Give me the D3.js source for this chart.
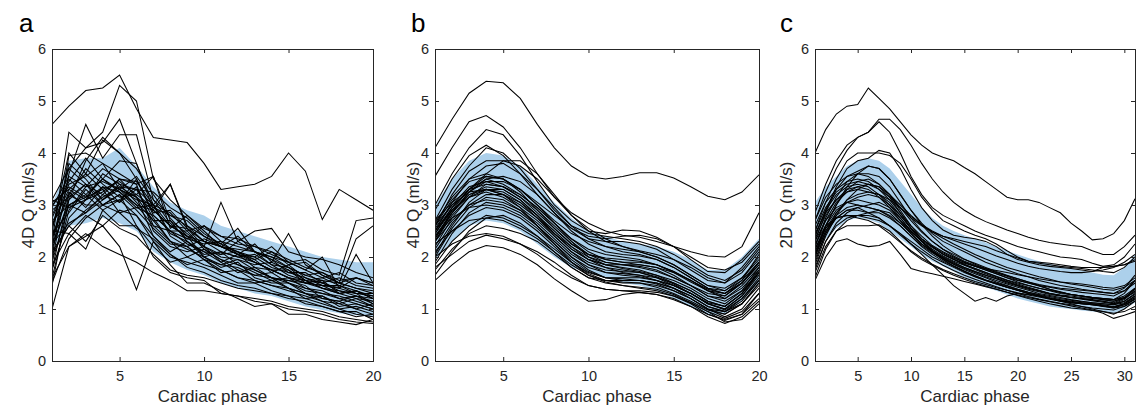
<!DOCTYPE html>
<html>
<head>
<meta charset="utf-8">
<title></title>
<script src="https://d3js.org/d3.v7.min.js"></script>
<style>
body { margin: 0; background: #fff; }
svg text { font-family: "Liberation Sans", Arial, Helvetica, sans-serif; fill: #262626; }
</style>
</head>
<body>
<svg id="chart" width="1137" height="406"></svg>
<script>

// tick labels
var yTicks = [0, 1, 2, 3, 4, 5, 6]
var xTicksAB = [5, 10, 15, 20]
var xTicksC = [5, 10, 15, 20, 25, 30]

// panel a : 4D flow, 20 phases
var bandHiA = [3.0, 3.85, 3.9, 3.9, 4.1, 3.75, 3.35, 3.05, 2.9, 2.8, 2.6, 2.5, 2.4, 2.3, 2.2, 2.1, 2.0, 1.95, 1.9, 1.9]
var bandLoA = [2.15, 2.6, 2.65, 2.75, 2.65, 2.5, 2.1, 1.9, 1.75, 1.65, 1.5, 1.4, 1.3, 1.25, 1.15, 1.05, 0.98, 0.92, 0.88, 0.85]
var linesA = [
  [4.55, 4.9, 5.2, 5.25, 5.5, 4.85, 4.3, 4.25, 4.2, 3.8, 3.3, 3.35, 3.4, 3.55, 4.0, 3.65, 2.72, 3.3, 3.1, 2.9],
  [3.1, 3.7, 4.1, 4.4, 5.3, 5.0, 3.5, 3.1, 2.8, 2.55, 2.4, 2.35, 2.2, 2.1, 1.95, 1.8, 1.7, 1.55, 1.6, 1.5],
  [2.3, 4.4, 4.1, 4.2, 4.65, 3.8, 3.0, 2.6, 2.4, 2.2, 2.05, 2.1, 1.9, 1.75, 1.6, 1.5, 1.45, 1.3, 1.35, 1.2],
  [1.9, 3.6, 4.55, 3.9, 4.35, 4.35, 3.1, 2.8, 2.6, 2.3, 2.2, 2.4, 2.1, 1.85, 1.8, 1.65, 1.55, 1.5, 1.4, 1.3],
  [2.5, 4.0, 3.6, 4.25, 4.0, 3.7, 3.2, 2.75, 2.4, 2.3, 2.2, 2.05, 2.0, 1.8, 1.7, 1.6, 1.45, 1.45, 1.3, 1.25],
  [1.45, 3.1, 3.85, 4.3, 4.0, 3.5, 2.8, 2.5, 2.5, 2.15, 1.95, 1.85, 1.75, 1.6, 1.55, 1.5, 1.4, 1.3, 1.2, 1.15],
  [2.0, 3.95, 4.0, 3.8, 3.6, 3.4, 3.55, 2.7, 2.3, 2.05, 2.1, 2.0, 1.9, 1.75, 1.6, 1.55, 1.4, 1.35, 1.3, 1.1],
  [2.8, 3.5, 3.2, 3.5, 3.85, 3.8, 2.9, 3.4, 2.6, 2.4, 2.2, 2.15, 2.1, 2.0, 1.8, 1.55, 1.5, 1.35, 1.25, 1.2],
  [3.05, 3.3, 3.6, 3.3, 3.45, 3.2, 3.55, 2.55, 2.8, 2.5, 2.2, 2.1, 1.95, 2.1, 1.85, 1.9, 1.65, 1.5, 1.6, 1.5],
  [2.2, 3.8, 3.5, 3.1, 3.35, 3.15, 2.7, 2.3, 2.15, 2.0, 1.85, 1.8, 1.65, 1.6, 1.5, 1.35, 1.3, 1.2, 1.1, 1.0],
  [2.6, 3.3, 3.1, 3.25, 3.5, 3.4, 2.5, 2.2, 2.1, 2.2, 1.9, 1.7, 1.8, 1.6, 1.4, 1.3, 1.25, 1.1, 1.2, 1.05],
  [1.6, 2.9, 3.35, 3.45, 3.3, 3.15, 2.4, 2.1, 2.3, 2.0, 1.8, 1.9, 1.6, 1.5, 1.5, 1.3, 1.2, 1.15, 1.0, 0.9],
  [2.75, 3.45, 3.9, 3.5, 3.3, 3.0, 2.6, 2.5, 2.25, 2.1, 2.05, 2.3, 2.1, 1.95, 1.7, 1.7, 1.5, 1.6, 1.45, 1.4],
  [2.35, 3.2, 3.0, 3.0, 3.2, 2.6, 2.2, 1.9, 2.0, 1.85, 1.75, 1.6, 1.55, 1.45, 1.4, 1.3, 1.15, 1.0, 0.9, 0.85],
  [1.75, 2.75, 3.1, 3.35, 3.25, 3.0, 2.9, 2.6, 2.4, 2.0, 2.1, 1.85, 1.7, 1.55, 1.6, 1.4, 1.3, 1.25, 1.15, 1.05],
  [2.9, 3.15, 3.4, 3.1, 3.3, 3.1, 3.0, 2.4, 2.2, 2.35, 2.2, 2.05, 1.95, 1.7, 1.85, 1.6, 1.5, 1.4, 2.05, 1.5],
  [2.25, 2.65, 2.85, 3.1, 3.4, 3.05, 2.7, 2.7, 2.45, 2.2, 2.0, 1.95, 1.85, 1.9, 1.75, 1.5, 1.55, 1.3, 1.35, 1.25],
  [1.9, 3.0, 3.2, 2.9, 3.1, 2.8, 2.3, 2.0, 1.9, 1.8, 1.65, 1.5, 1.5, 1.35, 1.25, 1.2, 1.1, 1.0, 1.05, 0.95],
  [2.45, 2.85, 3.3, 3.0, 3.1, 3.35, 2.6, 2.3, 2.0, 2.15, 1.95, 1.75, 1.65, 1.7, 1.5, 1.4, 1.35, 1.2, 1.25, 1.15],
  [3.0, 3.35, 3.15, 3.5, 3.25, 2.95, 3.0, 2.45, 2.3, 2.1, 1.9, 2.05, 1.8, 1.75, 1.6, 1.5, 1.45, 1.4, 1.3, 1.3],
  [2.1, 2.6, 2.3, 2.8, 2.55, 2.4, 2.05, 1.75, 1.65, 1.6, 1.5, 1.4, 1.35, 1.3, 1.25, 1.1, 1.05, 0.95, 0.95, 0.8],
  [1.6, 2.2, 2.45, 2.2, 2.05, 1.9, 1.7, 1.55, 1.35, 1.35, 1.3, 1.25, 1.15, 1.1, 1.0, 0.95, 0.9, 0.8, 0.75, 0.72],
  [1.0, 2.2, 2.4, 2.6, 2.2, 1.37, 2.3, 1.85, 1.5, 1.5, 1.35, 1.2, 1.05, 1.1, 0.9, 0.9, 0.8, 0.75, 0.7, 0.8],
  [2.5, 2.45, 2.15, 2.9, 2.6, 2.6, 2.0, 1.7, 1.6, 1.55, 1.3, 1.25, 1.2, 1.15, 1.05, 1.0, 0.95, 0.85, 0.8, 0.75],
  [2.55, 3.7, 3.4, 3.2, 3.5, 3.45, 3.0, 3.4, 2.55, 2.2, 3.05, 2.3, 2.5, 2.55, 2.1, 2.0, 1.95, 1.85, 1.7, 1.6],
  [2.7, 3.0, 2.85, 3.2, 3.05, 3.5, 2.85, 2.9, 2.55, 2.3, 2.2, 2.05, 2.25, 1.9, 2.45, 1.85, 1.65, 1.5, 1.4, 1.35],
  [1.75, 3.2, 3.7, 3.4, 3.15, 3.2, 2.95, 2.8, 2.7, 2.4, 2.25, 2.55, 2.1, 2.0, 1.9, 1.75, 2.0, 1.4, 1.6, 1.45],
  [2.05, 2.6, 2.9, 3.15, 3.35, 3.3, 3.25, 2.95, 2.75, 2.45, 2.25, 2.1, 2.0, 2.2, 1.9, 1.95, 1.75, 1.65, 2.7, 2.75],
  [2.25, 3.0, 3.15, 3.3, 2.85, 2.95, 2.8, 2.5, 2.35, 2.6, 2.3, 2.2, 2.1, 1.95, 1.8, 1.65, 1.7, 1.5, 2.35, 2.6],
  [2.95, 3.55, 3.35, 3.7, 3.5, 3.15, 2.9, 2.6, 2.55, 2.3, 2.1, 2.0, 2.05, 1.85, 1.65, 1.55, 1.6, 1.45, 1.35, 1.2],
  [1.85, 2.45, 2.8, 2.6, 2.9, 2.8, 2.4, 2.05, 1.85, 1.95, 1.75, 1.6, 1.5, 1.55, 1.4, 1.2, 1.25, 1.05, 1.1, 1.0],
  [2.4, 3.25, 2.95, 3.35, 3.05, 3.3, 2.75, 2.3, 2.2, 1.95, 1.85, 1.95, 1.75, 1.6, 1.55, 1.45, 1.2, 1.15, 1.25, 1.1],
  [3.1, 2.95, 3.1, 3.6, 3.4, 3.3, 3.0, 2.85, 2.5, 2.6, 2.4, 2.25, 2.2, 2.05, 1.9, 1.75, 1.6, 1.7, 1.5, 1.45],
  [1.5, 2.35, 2.75, 3.0, 2.85, 2.55, 2.35, 2.05, 1.8, 1.7, 1.55, 1.45, 1.4, 1.3, 1.2, 1.15, 1.05, 0.95, 0.85, 0.9],
  [2.15, 3.1, 3.4, 3.0, 3.2, 2.9, 2.55, 2.25, 2.2, 1.95, 1.7, 1.75, 1.55, 1.45, 1.35, 1.25, 1.15, 1.1, 1.0, 1.1],
  [2.6, 3.4, 3.55, 3.8, 3.3, 3.55, 3.1, 2.65, 2.35, 2.25, 2.3, 2.05, 1.9, 1.75, 1.75, 1.55, 1.4, 1.3, 1.35, 1.2]
]

// panel b : 4D flow, smoothed, 20 phases
var bandHiB = [3.0, 3.5, 3.85, 4.0, 3.95, 3.75, 3.4, 3.05, 2.75, 2.5, 2.4, 2.3, 2.25, 2.2, 2.1, 1.95, 1.75, 1.75, 2.0, 2.35]
var bandLoB = [1.95, 2.3, 2.6, 2.7, 2.65, 2.5, 2.25, 2.0, 1.8, 1.7, 1.6, 1.5, 1.45, 1.35, 1.2, 1.05, 0.88, 0.9, 1.15, 1.5]
var linesB = [
  [4.1, 4.65, 5.15, 5.38, 5.35, 5.05, 4.55, 4.1, 3.75, 3.55, 3.5, 3.55, 3.62, 3.62, 3.52, 3.35, 3.17, 3.1, 3.25, 3.58],
  [3.55, 4.1, 4.6, 4.72, 4.5, 4.1, 3.6, 3.15, 2.85, 2.65, 2.5, 2.42, 2.38, 2.3, 2.2, 2.1, 2.02, 2.0, 2.2, 2.85],
  [3.0, 3.6, 4.1, 4.45, 4.35, 3.95, 3.45, 3.0, 2.7, 2.5, 2.45, 2.52, 2.5, 2.38, 2.2, 1.95, 1.72, 1.7, 1.95, 2.3],
  [2.9, 3.5, 3.95, 4.15, 3.95, 3.6, 3.2, 2.85, 2.55, 2.35, 2.3, 2.3, 2.25, 2.15, 1.95, 1.75, 1.55, 1.5, 1.8, 2.2],
  [2.7, 3.3, 3.75, 4.1, 4.0, 3.7, 3.3, 2.9, 2.6, 2.45, 2.4, 2.35, 2.3, 2.2, 2.05, 1.85, 1.65, 1.55, 1.75, 2.15],
  [2.6, 3.2, 3.65, 3.85, 3.85, 3.75, 3.5, 3.15, 2.8, 2.55, 2.35, 2.2, 2.1, 2.0, 1.85, 1.65, 1.45, 1.4, 1.6, 2.0],
  [2.5, 3.05, 3.5, 3.75, 3.8, 3.6, 3.3, 2.95, 2.6, 2.35, 2.2, 2.1, 2.05, 1.95, 1.8, 1.6, 1.4, 1.35, 1.6, 1.95],
  [2.45, 2.95, 3.3, 3.55, 3.5, 3.3, 3.0, 2.7, 2.45, 2.3, 2.2, 2.15, 2.1, 2.0, 1.85, 1.65, 1.45, 1.35, 1.55, 1.9],
  [2.35, 2.9, 3.3, 3.5, 3.4, 3.2, 2.95, 2.65, 2.35, 2.1, 1.95, 1.9, 1.85, 1.8, 1.7, 1.55, 1.35, 1.25, 1.5, 1.85],
  [2.55, 3.0, 3.35, 3.45, 3.35, 3.15, 2.9, 2.6, 2.3, 2.05, 1.9, 1.85, 1.82, 1.75, 1.6, 1.45, 1.25, 1.2, 1.45, 1.8],
  [2.2, 2.75, 3.15, 3.4, 3.35, 3.15, 2.85, 2.55, 2.25, 2.05, 1.95, 1.9, 1.9, 1.85, 1.72, 1.55, 1.35, 1.2, 1.4, 1.75],
  [2.4, 2.85, 3.2, 3.35, 3.3, 3.1, 2.8, 2.45, 2.15, 1.95, 1.85, 1.8, 1.75, 1.65, 1.5, 1.35, 1.15, 1.05, 1.3, 1.7],
  [2.3, 2.8, 3.15, 3.3, 3.25, 3.05, 2.75, 2.4, 2.1, 1.9, 1.8, 1.75, 1.7, 1.6, 1.45, 1.3, 1.1, 1.0, 1.25, 1.65],
  [2.6, 3.0, 3.25, 3.3, 3.2, 3.0, 2.75, 2.45, 2.2, 2.0, 1.9, 1.85, 1.8, 1.72, 1.6, 1.45, 1.3, 1.25, 1.5, 1.85],
  [2.15, 2.65, 3.0, 3.2, 3.2, 3.05, 2.8, 2.5, 2.2, 1.95, 1.8, 1.7, 1.65, 1.55, 1.4, 1.2, 1.0, 0.95, 1.2, 1.6],
  [2.5, 2.9, 3.15, 3.25, 3.15, 2.95, 2.7, 2.4, 2.1, 1.85, 1.7, 1.65, 1.62, 1.55, 1.45, 1.3, 1.1, 1.0, 1.25, 1.7],
  [2.0, 2.55, 2.95, 3.15, 3.1, 2.9, 2.6, 2.3, 2.0, 1.8, 1.7, 1.68, 1.65, 1.6, 1.5, 1.35, 1.15, 1.05, 1.3, 1.75],
  [2.3, 2.7, 3.0, 3.1, 3.05, 2.9, 2.65, 2.35, 2.05, 1.85, 1.75, 1.72, 1.7, 1.62, 1.48, 1.3, 1.1, 0.98, 1.2, 1.55],
  [1.9, 2.45, 2.85, 3.05, 3.0, 2.85, 2.6, 2.3, 2.0, 1.75, 1.6, 1.55, 1.55, 1.5, 1.4, 1.25, 1.05, 0.95, 1.15, 1.55],
  [2.4, 2.75, 2.95, 3.0, 2.95, 2.8, 2.55, 2.25, 1.95, 1.72, 1.6, 1.6, 1.6, 1.55, 1.45, 1.3, 1.12, 1.05, 1.3, 1.7],
  [2.1, 2.5, 2.8, 2.95, 2.9, 2.75, 2.5, 2.2, 1.9, 1.68, 1.55, 1.5, 1.5, 1.45, 1.35, 1.2, 1.0, 0.9, 1.1, 1.5],
  [1.85, 2.3, 2.6, 2.8, 2.75, 2.6, 2.4, 2.15, 1.9, 1.7, 1.6, 1.58, 1.55, 1.48, 1.35, 1.2, 1.0, 0.85, 1.0, 1.4],
  [2.25, 2.5, 2.7, 2.75, 2.7, 2.55, 2.35, 2.1, 1.85, 1.65, 1.52, 1.45, 1.42, 1.38, 1.28, 1.12, 0.95, 0.82, 0.95, 1.3],
  [1.75, 2.15, 2.45, 2.6, 2.55, 2.45, 2.3, 2.05, 1.8, 1.6, 1.5, 1.45, 1.4, 1.35, 1.25, 1.1, 0.9, 0.78, 0.9, 1.2],
  [2.0, 2.25, 2.4, 2.45, 2.4, 2.25, 2.05, 1.8, 1.6, 1.45, 1.38, 1.35, 1.32, 1.28, 1.2, 1.05, 0.85, 0.72, 0.85, 1.15],
  [1.55, 1.85, 2.1, 2.22, 2.18, 2.05, 1.85, 1.58, 1.35, 1.15, 1.18, 1.28, 1.32, 1.28, 1.18, 1.05, 0.9, 0.8, 0.9, 1.3],
  [1.8, 2.05, 2.3, 2.42, 2.35, 2.25, 2.1, 1.9, 1.65, 1.45, 1.38, 1.35, 1.35, 1.32, 1.25, 1.12, 0.95, 0.75, 0.8, 1.1],
  [2.6, 3.1, 3.45, 3.55, 3.5, 3.3, 3.05, 2.8, 2.55, 2.4, 2.35, 2.4, 2.42, 2.35, 2.2, 2.0, 1.8, 1.75, 1.9, 2.25],
  [2.7, 3.05, 3.3, 3.4, 3.35, 3.2, 2.95, 2.65, 2.35, 2.15, 2.05, 2.0, 1.95, 1.85, 1.7, 1.52, 1.35, 1.3, 1.5, 1.9],
  [2.3, 2.85, 3.25, 3.45, 3.45, 3.3, 3.0, 2.65, 2.3, 2.0, 1.85, 1.78, 1.72, 1.65, 1.55, 1.4, 1.2, 1.1, 1.35, 1.8],
  [2.45, 2.9, 3.2, 3.3, 3.2, 2.95, 2.6, 2.25, 1.9, 1.65, 1.55, 1.52, 1.5, 1.42, 1.3, 1.15, 0.98, 0.9, 1.1, 1.5],
  [2.05, 2.6, 3.05, 3.3, 3.3, 3.1, 2.8, 2.45, 2.15, 1.95, 1.85, 1.85, 1.85, 1.8, 1.65, 1.45, 1.25, 1.15, 1.35, 1.7],
  [2.65, 3.15, 3.5, 3.6, 3.5, 3.25, 2.9, 2.55, 2.25, 2.05, 1.98, 1.95, 1.92, 1.85, 1.72, 1.55, 1.38, 1.3, 1.55, 2.05],
  [2.5, 2.95, 3.3, 3.6, 3.85, 3.85, 3.6, 3.2, 2.8, 2.5, 2.3, 2.2, 2.12, 2.05, 1.95, 1.8, 1.6, 1.5, 1.7, 2.1],
  [1.65, 2.1, 2.5, 2.75, 2.8, 2.65, 2.4, 2.1, 1.8, 1.6, 1.55, 1.55, 1.55, 1.5, 1.4, 1.25, 1.05, 0.95, 1.1, 1.45],
  [2.35, 2.85, 3.25, 3.5, 3.55, 3.45, 3.2, 2.85, 2.5, 2.25, 2.1, 2.05, 2.02, 1.95, 1.8, 1.6, 1.4, 1.3, 1.5, 1.9]
]

// panel c : 2D flow, 31 phases
var bandHiC = [3.05, 3.35, 3.55, 3.75, 3.85, 3.9, 3.85, 3.7, 3.45, 3.2, 2.95, 2.75, 2.6, 2.5, 2.42, 2.35, 2.28, 2.2, 2.12, 2.05, 1.98, 1.92, 1.87, 1.82, 1.78, 1.74, 1.7, 1.66, 1.65, 1.8, 2.05]
var bandLoC = [2.05, 2.35, 2.55, 2.7, 2.75, 2.72, 2.65, 2.5, 2.35, 2.2, 2.05, 1.92, 1.82, 1.72, 1.6, 1.5, 1.42, 1.35, 1.28, 1.2, 1.15, 1.1, 1.05, 1.02, 1.0, 0.97, 0.95, 0.93, 0.92, 1.0, 1.12]
var linesC = [
  [4.0, 4.45, 4.75, 4.9, 4.93, 5.25, 5.05, 4.85, 4.6, 4.35, 4.15, 4.0, 3.92, 3.85, 3.72, 3.6, 3.45, 3.3, 3.15, 3.1, 3.1, 3.05, 2.95, 2.85, 2.65, 2.5, 2.33, 2.35, 2.45, 2.7, 3.12],
  [2.85, 3.4, 3.85, 4.15, 4.3, 4.4, 4.65, 4.65, 4.45, 4.15, 3.8, 3.5, 3.25, 3.05, 2.9, 2.78, 2.68, 2.6, 2.52, 2.45, 2.38, 2.32, 2.28, 2.25, 2.22, 2.2, 2.12, 2.05, 2.05, 2.2, 2.42],
  [2.7, 3.25, 3.7, 4.05, 4.3, 4.4, 4.6, 4.4, 4.0, 3.55, 3.2, 2.95, 2.8, 2.7, 2.6, 2.5, 2.42, 2.35, 2.28, 2.2, 2.15, 2.1, 2.05, 2.0, 1.98, 1.95, 1.88, 1.82, 1.85, 2.0, 2.25],
  [2.5, 3.05, 3.5, 3.85, 4.0, 4.0, 4.0, 3.95, 3.8, 3.5, 3.15, 2.9, 2.7, 2.6, 2.5, 2.42, 2.35, 2.25, 2.12, 2.0, 1.92, 1.88, 1.85, 1.82, 1.8, 1.78, 1.75, 1.72, 1.7, 1.8, 2.0],
  [2.4, 2.9, 3.35, 3.7, 3.85, 3.9, 4.05, 4.0, 3.7, 3.3, 2.95, 2.7, 2.52, 2.42, 2.38, 2.35, 2.3, 2.2, 2.05, 1.95, 1.9, 1.85, 1.82, 1.8, 1.78, 1.75, 1.72, 1.8, 1.82, 1.85, 1.95],
  [2.3, 2.85, 3.3, 3.55, 3.65, 3.75, 3.7, 3.5, 3.2, 2.9, 2.65, 2.45, 2.3, 2.2, 2.1, 2.0, 1.9, 1.82, 1.75, 1.68, 1.62, 1.55, 1.5, 1.45, 1.42, 1.38, 1.35, 1.32, 1.3, 1.4, 1.65],
  [2.2, 2.75, 3.15, 3.45, 3.6, 3.6, 3.55, 3.35, 3.05, 2.75, 2.5, 2.3, 2.15, 2.05, 1.95, 1.88, 1.8, 1.72, 1.65, 1.58, 1.52, 1.45, 1.38, 1.32, 1.28, 1.25, 1.22, 1.2, 1.18, 1.3, 1.55],
  [2.6, 3.05, 3.3, 3.45, 3.5, 3.45, 3.3, 3.1, 2.85, 2.6, 2.4, 2.22, 2.1, 2.0, 1.9, 1.82, 1.75, 1.68, 1.6, 1.52, 1.45, 1.4, 1.35, 1.3, 1.28, 1.25, 1.22, 1.18, 1.15, 1.2, 1.4],
  [2.0, 2.6, 3.0, 3.3, 3.45, 3.5, 3.4, 3.2, 2.9, 2.6, 2.35, 2.2, 2.05, 1.95, 1.85, 1.78, 1.7, 1.62, 1.55, 1.48, 1.42, 1.36, 1.3, 1.26, 1.22, 1.2, 1.18, 1.15, 1.12, 1.2, 1.35],
  [2.35, 2.8, 3.1, 3.3, 3.35, 3.3, 3.15, 2.95, 2.7, 2.45, 2.25, 2.1, 1.98, 1.88, 1.8, 1.72, 1.65, 1.58, 1.5, 1.44, 1.38, 1.33, 1.28, 1.25, 1.22, 1.2, 1.17, 1.15, 1.1, 1.15, 1.3],
  [1.9, 2.45, 2.85, 3.1, 3.2, 3.25, 3.2, 3.05, 2.8, 2.55, 2.35, 2.2, 2.08, 1.98, 1.9, 1.82, 1.75, 1.68, 1.6, 1.55, 1.5, 1.45, 1.42, 1.38, 1.35, 1.32, 1.3, 1.28, 1.25, 1.35, 1.55],
  [2.15, 2.6, 2.9, 3.05, 3.1, 3.05, 3.0, 2.9, 2.7, 2.5, 2.3, 2.12, 2.0, 1.9, 1.8, 1.72, 1.65, 1.58, 1.52, 1.45, 1.4, 1.35, 1.3, 1.27, 1.25, 1.22, 1.2, 1.18, 1.15, 1.22, 1.38],
  [1.75, 2.3, 2.65, 2.85, 2.95, 3.0, 3.05, 2.95, 2.75, 2.5, 2.3, 2.12, 1.98, 1.86, 1.76, 1.68, 1.6, 1.52, 1.45, 1.38, 1.32, 1.28, 1.24, 1.2, 1.17, 1.14, 1.12, 1.1, 1.08, 1.15, 1.28],
  [2.05, 2.5, 2.75, 2.9, 2.9, 2.85, 2.85, 2.75, 2.6, 2.4, 2.2, 2.05, 1.92, 1.82, 1.72, 1.64, 1.56, 1.5, 1.44, 1.38, 1.32, 1.27, 1.22, 1.18, 1.15, 1.12, 1.1, 1.08, 1.05, 1.1, 1.22],
  [1.6, 2.15, 2.5, 2.7, 2.8, 2.85, 2.9, 2.85, 2.65, 2.45, 2.25, 2.1, 1.95, 1.82, 1.72, 1.62, 1.55, 1.48, 1.42, 1.36, 1.3, 1.25, 1.2, 1.16, 1.12, 1.1, 1.08, 1.05, 1.02, 1.08, 1.2],
  [2.25, 2.6, 2.75, 2.8, 2.8, 2.75, 2.7, 2.6, 2.45, 2.3, 2.15, 2.0, 1.9, 1.8, 1.7, 1.62, 1.55, 1.48, 1.42, 1.36, 1.3, 1.25, 1.2, 1.17, 1.14, 1.12, 1.1, 1.06, 1.02, 1.05, 1.15],
  [1.55, 2.0, 2.3, 2.35, 2.25, 2.2, 2.22, 2.3, 2.05, 1.78, 1.72, 1.68, 1.63, 1.58, 1.53, 1.48, 1.43, 1.38, 1.32, 1.26, 1.2, 1.15, 1.1, 1.06, 1.02, 1.0, 0.97, 0.95, 0.92, 0.95, 1.05],
  [1.8, 2.3, 2.6, 2.75, 2.8, 2.8, 2.75, 2.6, 2.45, 2.25, 2.05, 1.85, 1.65, 1.45, 1.3, 1.15, 1.22, 1.15, 1.25, 1.3, 1.28, 1.25, 1.2, 1.15, 1.1, 1.05, 1.0, 0.95, 0.9, 1.0, 1.15],
  [2.5, 2.95, 3.25, 3.4, 3.45, 3.4, 3.3, 3.15, 2.95, 2.75, 2.6, 2.48, 2.4, 2.35, 2.3, 2.25, 2.2, 2.12, 2.05, 1.98, 1.92, 1.9, 1.88, 1.85, 1.82, 1.8, 1.8, 1.8, 1.82, 1.85, 1.92],
  [2.1, 2.55, 2.85, 3.05, 3.15, 3.2, 3.15, 3.0, 2.8, 2.55, 2.35, 2.2, 2.05, 1.95, 1.88, 1.82, 1.78, 1.74, 1.7, 1.66, 1.62, 1.58, 1.55, 1.52, 1.5, 1.48, 1.45, 1.42, 1.4, 1.45, 1.6],
  [1.85, 2.4, 2.8, 3.1, 3.3, 3.4, 3.35, 3.15, 2.85, 2.55, 2.3, 2.1, 1.95, 1.83, 1.73, 1.64, 1.56, 1.49, 1.42, 1.36, 1.3, 1.25, 1.2, 1.16, 1.13, 1.1, 1.08, 1.06, 1.04, 1.1, 1.25],
  [2.4, 2.9, 3.2, 3.35, 3.4, 3.35, 3.2, 3.0, 2.75, 2.5, 2.3, 2.15, 2.02, 1.92, 1.84, 1.76, 1.68, 1.6, 1.53, 1.46, 1.4, 1.35, 1.3, 1.26, 1.22, 1.19, 1.16, 1.13, 1.1, 1.18, 1.35],
  [2.0, 2.5, 2.8, 2.95, 3.0, 2.95, 2.9, 2.78, 2.6, 2.4, 2.22, 2.08, 1.96, 1.86, 1.78, 1.7, 1.62, 1.55, 1.48, 1.42, 1.36, 1.3, 1.26, 1.22, 1.18, 1.15, 1.12, 1.1, 1.08, 1.12, 1.25],
  [2.3, 2.7, 2.95, 3.05, 3.0, 2.95, 2.9, 2.8, 2.65, 2.48, 2.32, 2.18, 2.06, 1.96, 1.86, 1.78, 1.7, 1.63, 1.56, 1.5, 1.45, 1.4, 1.36, 1.32, 1.28, 1.25, 1.22, 1.2, 1.18, 1.22, 1.32],
  [1.7, 2.2, 2.5, 2.6, 2.6, 2.6, 2.62, 2.5, 2.3, 2.1, 1.95, 1.84, 1.74, 1.65, 1.57, 1.5, 1.44, 1.38, 1.32, 1.27, 1.22, 1.18, 1.14, 1.1, 1.06, 1.02, 0.98, 0.92, 0.82, 0.88, 0.95],
  [2.2, 2.7, 3.05, 3.25, 3.35, 3.4, 3.35, 3.2, 3.0, 2.8, 2.62, 2.48, 2.36, 2.25, 2.15, 2.05, 1.96, 1.88, 1.8, 1.74, 1.68, 1.62, 1.57, 1.52, 1.48, 1.45, 1.42, 1.38, 1.36, 1.42, 1.55],
  [2.05, 2.6, 3.0, 3.35, 3.6, 3.75, 3.7, 3.5, 3.2, 2.9, 2.62, 2.4, 2.22, 2.08, 1.96, 1.86, 1.78, 1.7, 1.63, 1.56, 1.5, 1.44, 1.38, 1.33, 1.28, 1.25, 1.22, 1.2, 1.18, 1.25, 1.4],
  [1.95, 2.45, 2.75, 2.9, 2.95, 2.85, 2.75, 2.6, 2.42, 2.25, 2.1, 1.96, 1.84, 1.74, 1.65, 1.57, 1.5, 1.43, 1.36, 1.3, 1.24, 1.19, 1.15, 1.11, 1.08, 1.05, 1.02, 1.0, 0.98, 1.05, 1.2],
  [2.7, 3.15, 3.4, 3.55, 3.6, 3.55, 3.4, 3.2, 2.95, 2.7, 2.48, 2.3, 2.15, 2.02, 1.92, 1.84, 1.77, 1.7, 1.64, 1.58, 1.52, 1.47, 1.43, 1.4, 1.38, 1.36, 1.34, 1.32, 1.3, 1.35, 1.5],
  [2.15, 2.55, 2.75, 2.8, 2.75, 2.7, 2.6, 2.45, 2.28, 2.12, 1.98, 1.86, 1.76, 1.68, 1.6, 1.53, 1.47, 1.41, 1.36, 1.31, 1.27, 1.23, 1.19, 1.15, 1.12, 1.1, 1.08, 1.06, 1.04, 1.08, 1.18],
  [2.45, 2.85, 3.1, 3.25, 3.3, 3.25, 3.2, 3.1, 2.95, 2.78, 2.62, 2.5, 2.4, 2.32, 2.25, 2.18, 2.1, 2.02, 1.95, 1.88, 1.82, 1.78, 1.75, 1.72, 1.7, 1.7, 1.72, 1.75, 1.8, 1.9, 2.05]
]

var svg = d3.select("#chart")
var top0 = 49, bottom0 = 361

var panels = [
  {label: "a", title: "4D Q (ml/s)", lines: linesA, hi: bandHiA, lo: bandLoA, xmax: 20, xticks: xTicksAB, left: 52, right: 373, labelX: 19, titleX: 28},
  {label: "b", title: "4D Q (ml/s)", lines: linesB, hi: bandHiB, lo: bandLoB, xmax: 20, xticks: xTicksAB, left: 435, right: 759, labelX: 411, titleX: 413},
  {label: "c", title: "2D Q (ml/s)", lines: linesC, hi: bandHiC, lo: bandLoC, xmax: 31, xticks: xTicksC, left: 815, right: 1135, labelX: 780, titleX: 786}
]

panels.forEach(function(p, k) {
  var x = d3.scaleLinear().domain([1, p.xmax]).range([p.left, p.right])
  var y = d3.scaleLinear().domain([0, 6]).range([bottom0, top0])

  var g = svg.append("g")

  g.append("clipPath").attr("id", "clip" + k)
    .append("rect")
    .attr("x", p.left).attr("y", top0)
    .attr("width", p.right - p.left).attr("height", bottom0 - top0)

  var plot = g.append("g").attr("clip-path", "url(#clip" + k + ")")

  // mean +- sd band
  var area = d3.area()
    .x(function(d, i) { return x(i + 1) })
    .y0(function(d, i) { return y(p.lo[i]) })
    .y1(function(d) { return y(d) })

  plot.append("path")
    .datum(p.hi)
    .attr("d", area)
    .style("fill", "#acd0eb")
    .style("stroke", "none")

  // one line per subject
  var line = d3.line()
    .x(function(d, i) { return x(i + 1) })
    .y(function(d) { return y(d) })

  plot.selectAll(".subj")
    .data(p.lines)
    .enter()
    .append("path")
    .attr("d", line)
    .style("fill", "none")
    .style("stroke", "#000")
    .style("stroke-width", 1.05)

  // box with inward ticks on all sides
  var axes = [
    {ax: d3.axisBottom(x).tickValues(p.xticks).tickSize(-4).tickPadding(10).tickFormat(d3.format("d")), t: "translate(0," + bottom0 + ")"},
    {ax: d3.axisTop(x).tickValues(p.xticks).tickSize(-4).tickFormat(""), t: "translate(0," + top0 + ")"},
    {ax: d3.axisLeft(y).tickValues(yTicks).tickSize(-4).tickPadding(6).tickFormat(d3.format("d")), t: "translate(" + p.left + ",0)"},
    {ax: d3.axisRight(y).tickValues(yTicks).tickSize(-4).tickFormat(""), t: "translate(" + p.right + ",0)"}
  ]
  axes.forEach(function(a) {
    var ag = g.append("g").attr("transform", a.t).call(a.ax)
    ag.selectAll("path, line").style("stroke", "#262626").style("stroke-width", 1)
    ag.selectAll("text")
      .style("font-family", "'Liberation Sans', Arial, Helvetica, sans-serif")
      .style("font-size", "14.5px")
      .style("fill", "#262626")
  })

  // axis titles
  g.append("text")
    .attr("x", (p.left + p.right) / 2)
    .attr("y", 402)
    .attr("text-anchor", "middle")
    .style("font-size", "17px")
    .text("Cardiac phase")

  g.append("text")
    .attr("transform", "translate(" + p.titleX + "," + ((top0 + bottom0) / 2) + ") rotate(-90)")
    .attr("text-anchor", "middle")
    .attr("dy", "0.35em")
    .style("font-size", "17px")
    .text(p.title)

  // panel letter
  g.append("text")
    .attr("x", p.labelX)
    .attr("y", 32)
    .style("font-size", "26px")
    .style("fill", "#000")
    .text(p.label)
})

</script>
</body>
</html>
